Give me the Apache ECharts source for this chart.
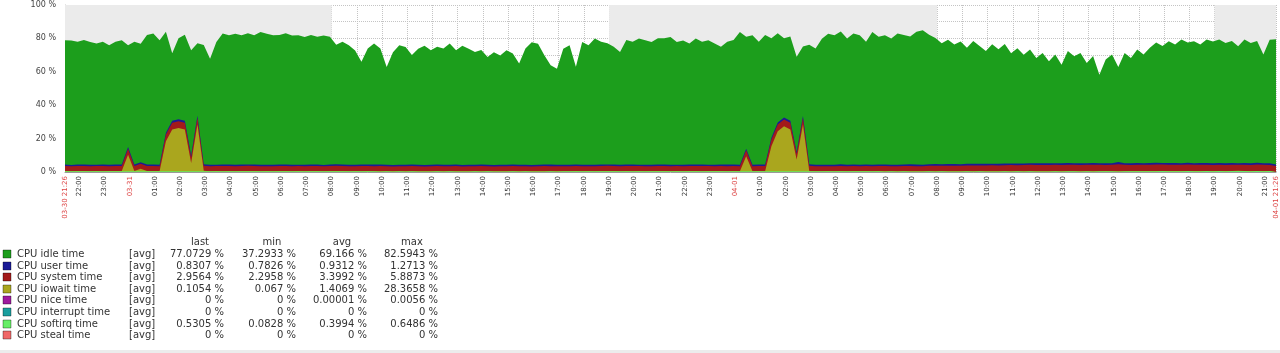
<!DOCTYPE html>
<html>
<head>
<meta charset="utf-8">
<script src="https://cdn.jsdelivr.net/npm/echarts@6/dist/echarts.min.js"></script>
<style>
html,body{margin:0;padding:0;background:#fff;}
#chart{width:1280px;height:353px;}
</style>
</head>
<body>
<div id="chart"></div>
<script>
// ---------- DATA ----------
// x values are minutes from the period start 03-30 21:26
const sampleStepMinutes = 15; // one sample every 15 min
const axisMaxMinutes = 2880;

const xTickMinutes = [0,34,94,154,214,274,334,394,454,514,574,634,694,754,814,874,934,994,1054,1114,1174,1234,1294,1354,1414,1474,1534,1594,1654,1714,1774,1834,1894,1954,2014,2074,2134,2194,2254,2314,2374,2434,2494,2554,2614,2674,2734,2794,2854,2880];
const xTickLabels = ['03-30 21:26','22:00','23:00','03-31','01:00','02:00','03:00','04:00','05:00','06:00','07:00','08:00','09:00','10:00','11:00','12:00','13:00','14:00','15:00','16:00','17:00','18:00','19:00','20:00','21:00','22:00','23:00','04-01','01:00','02:00','03:00','04:00','05:00','06:00','07:00','08:00','09:00','10:00','11:00','12:00','13:00','14:00','15:00','16:00','17:00','18:00','19:00','20:00','21:00','04-01 21:26'];
const nightRanges = [[0,634],[1294,2074],[2734,2880]];

const idleValues = [
74.5,74.5,73.5,74.5,73.5,72.5,73.5,71.5,73.5,74.5,
61,73.5,71,77.5,78.5,74.5,60.5,40.5,48.5,51.5,
63,43.5,71.5,63.5,73.5,78.5,77.5,78.5,77.5,78.5,
77.5,79.5,78.5,77.5,77.5,78.5,77.5,77.5,76.5,77.5,
76.5,77.5,76.5,71.5,73.5,71.5,68.5,61.5,69.5,72.5,
69.5,58.5,67.5,71.5,70.5,65.5,69.5,71.5,68.5,70.5,
69.5,72.5,68.5,71.5,69.5,67.5,68.5,64.5,67.5,65.5,
68.5,66.5,60.5,69.5,73.5,72.5,65.5,59.5,57.5,69.5,
71.5,58.5,73.5,71.5,75.5,73.5,72.5,70.5,67.5,74.5,
73.5,75.5,74.5,73.5,75.5,75.5,76.5,73.5,74.5,72.5,
75.5,73.5,74.5,72.5,70.5,73.5,74.5,79.5,67,77.5,
73.5,77.5,59.5,53.5,47.5,50.5,57,41.5,71.5,69.5,
75.5,78.5,77.5,79.5,75.5,78.5,77.5,73.5,79.5,76.5,
77.5,75.5,78.5,77.5,76.5,79.5,80.5,77.5,75.5,72.5,
74.5,71.5,73.5,69.5,73.5,70.5,67.5,71.5,68.5,71.5,
66,69,65,68,63,66,61,65,59,67,
64,66,60,64,53,62,65,57,66,63,
68,65,69,72,70,73,71,74,72,73,
71,74,73,74,72,73,70,74,72,73,
65,74,75
];
const userValues = [
0.9,0.85,0.9,0.95,0.9,0.85,0.9,0.9,0.95,0.9,
1.0,0.9,0.9,0.9,0.85,0.9,1.1,1.2,1.2,1.2,
1.0,1.2,0.9,0.9,0.85,0.9,0.9,0.95,0.9,0.85,
0.9,0.9,0.85,0.9,0.9,0.95,0.9,0.85,0.9,0.9,
0.9,0.85,0.9,0.95,0.9,0.9,0.85,0.9,0.9,0.95,
0.9,0.9,0.85,0.9,0.95,0.9,0.9,0.85,0.9,0.9,
0.95,0.9,0.9,0.85,0.9,0.9,0.95,0.9,0.85,0.9,
0.9,0.9,0.95,0.9,0.85,0.9,0.9,0.95,0.9,0.9,
0.85,0.9,0.9,0.95,0.9,0.9,0.85,0.9,0.9,0.95,
0.9,0.85,0.9,0.9,0.95,0.9,0.9,0.85,0.9,0.9,
0.95,0.9,0.85,0.9,0.9,0.95,0.9,0.9,1.0,0.9,
0.9,0.9,1.1,1.2,1.2,1.2,1.0,1.2,0.9,0.9,
0.85,0.9,0.9,0.95,0.9,0.9,0.85,0.9,0.9,0.95,
0.9,0.9,0.95,0.9,0.95,1.0,0.95,1.0,1.0,0.95,
1.0,1.0,0.95,1.0,1.0,1.05,1.0,1.0,1.05,1.0,
1.0,1.05,1.0,1.0,1.05,1.0,1.1,1.0,1.05,1.0,
1.0,1.05,1.0,1.1,1.0,1.05,1.0,1.27,1.0,1.05,
1.0,1.0,1.05,1.0,1.0,1.05,1.0,1.0,1.05,1.0,
1.0,1.05,1.0,1.0,1.0,1.05,1.0,1.0,1.0,1.05,
1.0,1.0,0.85
];
const systemValues = [
3.0,2.9,3.1,3.0,2.9,3.0,3.1,2.9,3.0,3.0,
3.5,3.0,3.0,3.1,3.0,2.9,4.0,4.0,4.0,4.0,
3.5,4.0,3.0,2.9,3.0,3.1,3.0,2.9,3.0,3.1,
3.0,3.0,2.9,3.0,3.1,3.0,2.9,3.0,3.0,3.1,
3.0,2.9,3.0,3.1,3.0,3.0,2.9,3.1,3.0,3.0,
3.1,3.0,2.9,3.0,3.0,3.1,3.0,2.9,3.0,3.1,
3.0,3.0,3.1,2.9,3.0,3.0,3.1,3.0,2.9,3.0,
3.0,3.1,3.0,3.0,2.9,3.0,3.1,3.0,3.0,2.9,
3.0,3.1,3.0,2.9,3.0,3.0,3.1,3.0,2.9,3.0,
3.1,3.0,3.0,2.9,3.0,3.1,3.0,3.0,2.9,3.0,
3.0,3.1,3.0,2.9,3.0,3.0,3.1,3.0,3.5,3.0,
3.0,3.1,4.0,4.0,4.0,4.0,3.5,4.0,3.1,3.0,
3.0,2.9,3.0,3.1,3.0,3.0,2.9,3.1,3.0,3.0,
3.1,3.0,3.0,3.1,3.2,3.1,3.0,3.2,3.3,3.2,
3.3,3.4,3.3,3.4,3.5,3.4,3.5,3.6,3.5,3.6,
3.7,3.6,3.7,3.8,3.7,3.8,3.7,3.8,3.7,3.9,
3.8,3.7,3.8,3.9,3.8,3.7,3.8,4.2,3.8,3.7,
3.8,3.7,3.8,3.9,3.8,3.7,3.8,3.7,3.8,3.7,
3.8,3.7,3.6,3.7,3.6,3.7,3.6,3.7,3.6,3.8,
3.7,3.6,3.0
];
const iowaitValues = [
0.1,0.1,0.1,0.1,0.1,0.1,0.1,0.1,0.1,0.1,
10,0.1,1.5,0.1,0.1,0.1,18,25,26,25,
5,28,0.2,0.1,0.1,0.1,0.1,0.1,0.1,0.1,
0.1,0.1,0.1,0.1,0.1,0.1,0.1,0.1,0.1,0.1,
0.1,0.1,0.1,0.1,0.1,0.1,0.1,0.1,0.1,0.1,
0.1,0.1,0.1,0.1,0.1,0.1,0.1,0.1,0.1,0.1,
0.1,0.1,0.1,0.1,0.1,0.1,0.1,0.1,0.1,0.1,
0.1,0.1,0.1,0.1,0.1,0.1,0.1,0.1,0.1,0.1,
0.1,0.1,0.1,0.1,0.1,0.1,0.1,0.1,0.1,0.1,
0.1,0.1,0.1,0.1,0.1,0.1,0.1,0.1,0.1,0.1,
0.1,0.1,0.1,0.1,0.1,0.1,0.1,0.1,9,0.1,
0.1,0.1,15,24,27,25,7,28,0.2,0.1,
0.1,0.1,0.1,0.1,0.1,0.1,0.1,0.1,0.1,0.1,
0.1,0.1,0.1,0.1,0.1,0.1,0.1,0.1,0.1,0.1,
0.1,0.1,0.1,0.1,0.1,0.1,0.1,0.1,0.1,0.1,
0.1,0.1,0.1,0.1,0.1,0.1,0.1,0.1,0.1,0.1,
0.1,0.1,0.1,0.1,0.1,0.1,0.1,0.1,0.1,0.1,
0.1,0.1,0.1,0.1,0.1,0.1,0.1,0.1,0.1,0.1,
0.1,0.1,0.1,0.1,0.1,0.1,0.1,0.1,0.1,0.1,
0.1,0.1,0.1
];
const softirqValues = [
0.45,0.4,0.45,0.5,0.4,0.45,0.4,0.45,0.5,0.45,
0.4,0.45,0.4,0.45,0.5,0.45,0.4,0.45,0.4,0.45,
0.4,0.45,0.5,0.4,0.45,0.4,0.45,0.4,0.45,0.5,
0.45,0.4,0.45,0.4,0.45,0.5,0.4,0.45,0.4,0.45,
0.45,0.4,0.45,0.5,0.45,0.4,0.45,0.4,0.45,0.4,
0.35,0.4,0.35,0.4,0.35,0.4,0.35,0.3,0.35,0.4,
0.35,0.4,0.35,0.3,0.35,0.4,0.35,0.4,0.35,0.3,
0.35,0.4,0.35,0.4,0.35,0.3,0.35,0.4,0.35,0.4,
0.4,0.45,0.4,0.45,0.4,0.45,0.5,0.45,0.4,0.45,
0.4,0.45,0.4,0.45,0.5,0.45,0.4,0.45,0.4,0.45,
0.45,0.4,0.45,0.5,0.45,0.4,0.45,0.4,0.45,0.4,
0.45,0.4,0.45,0.4,0.45,0.5,0.45,0.4,0.45,0.4,
0.4,0.45,0.4,0.45,0.4,0.45,0.5,0.45,0.4,0.45,
0.35,0.4,0.35,0.4,0.35,0.3,0.35,0.4,0.35,0.4,
0.35,0.3,0.35,0.4,0.35,0.4,0.35,0.3,0.35,0.4,
0.35,0.4,0.35,0.4,0.35,0.3,0.35,0.4,0.35,0.4,
0.4,0.35,0.4,0.35,0.4,0.45,0.4,0.35,0.4,0.45,
0.45,0.5,0.45,0.5,0.55,0.5,0.45,0.5,0.55,0.5,
0.5,0.55,0.5,0.55,0.5,0.55,0.6,0.55,0.5,0.55,
0.5,0.55,0.53
];
// always-zero items (nice / interrupt / steal): values at start and end of the period
const zeroItemMinutes = [0, 2880];
const niceValues = [0, 0];
const interruptValues = [0, 0];
const stealValues = [0, 0];

const legendNames = ['CPU idle time','CPU user time','CPU system time','CPU iowait time','CPU nice time','CPU interrupt time','CPU softirq time','CPU steal time'];
const legendLast = ['77.0729 %','0.8307 %','2.9564 %','0.1054 %','0 %','0 %','0.5305 %','0 %'];
const legendMin  = ['37.2933 %','0.7826 %','2.2958 %','0.067 %','0 %','0 %','0.0828 %','0 %'];
const legendAvg  = ['69.166 %','0.9312 %','3.3992 %','1.4069 %','0.00001 %','0 %','0.3994 %','0 %'];
const legendMax  = ['82.5943 %','1.2713 %','5.8873 %','28.3658 %','0.0056 %','0 %','0.6486 %','0 %'];
const yTickLabels = ['0 %','20 %','40 %','60 %','80 %','100 %'];

// ---------- STYLE ----------
const COLORS = {
  idle:'#1c9e1c', user:'#1a1a96', system:'#a31a1a', iowait:'#aaa61e',
  nice:'#9e1a9e', interrupt:'#1a9e9e', softirq:'#66ee66', steal:'#f06868'
};
const legendColors = [COLORS.idle,COLORS.user,COLORS.system,COLORS.iowait,COLORS.nice,COLORS.interrupt,COLORS.softirq,COLORS.steal];
const FONT = 'DejaVu Sans';

// stacking (bottom -> top): softirq, iowait, system, user, idle
const layers = [
  {name:'CPU softirq time', values:softirqValues, color:COLORS.softirq},
  {name:'CPU iowait time',  values:iowaitValues,  color:COLORS.iowait},
  {name:'CPU system time',  values:systemValues,  color:COLORS.system},
  {name:'CPU user time',    values:userValues,    color:COLORS.user},
  {name:'CPU idle time',    values:idleValues,    color:COLORS.idle}
];
const running = idleValues.map(()=>0);
const stackedSeries = layers.map(l => {
  const data = l.values.map((v,i) => { running[i] += v; return [i*sampleStepMinutes, +running[i].toFixed(3)]; });
  return {
    name:l.name, type:'line', data, showSymbol:false, symbol:'none',
    lineStyle:{width:0}, areaStyle:{color:l.color, opacity:1, origin:'start'}, itemStyle:{color:l.color},
    z:2, silent:true
  };
}).reverse(); // draw top-most cumulative first, lower layers over it

function zeroSeries(name, values, color){
  return {
    name, type:'line', data:values.map((v,i)=>[zeroItemMinutes[i], v]), showSymbol:false, symbol:'none',
    lineStyle:{width:0}, areaStyle:{color, opacity:1}, itemStyle:{color}, z:2, silent:true
  };
}

// legend as graphic texts
const graphics = [];
const rowY0 = 254, rowStep = 11.6;
const colRight = {last:224, min:296, avg:367, max:438};
const headCenter = {last:200, min:272, avg:342, max:412};
const textStyle = {fontFamily:FONT, fontSize:10, fill:'#333'};
[['last','last'],['min','min'],['avg','avg'],['max','max']].forEach(([k,t])=>{
  graphics.push({type:'text', x:headCenter[k], y:rowY0-rowStep, silent:true,
    style:Object.assign({text:t, align:'center', verticalAlign:'middle'}, textStyle)});
});
legendNames.forEach((nm,i)=>{
  const y = Math.round(rowY0 + i*rowStep);
  graphics.push({type:'rect', shape:{x:3, y:y-4, width:8, height:8}, silent:true,
    style:{fill:legendColors[i], stroke:'rgba(0,0,0,0.35)', lineWidth:1}});
  graphics.push({type:'text', x:17, y:y, silent:true, style:Object.assign({text:nm, align:'left', verticalAlign:'middle'}, textStyle)});
  graphics.push({type:'text', x:129, y:y, silent:true, style:Object.assign({text:'[avg]', align:'left', verticalAlign:'middle'}, textStyle)});
  [['last',legendLast],['min',legendMin],['avg',legendAvg],['max',legendMax]].forEach(([k,arr])=>{
    graphics.push({type:'text', x:colRight[k], y:y, silent:true, style:Object.assign({text:arr[i], align:'right', verticalAlign:'middle'}, textStyle)});
  });
});
graphics.push({type:'rect', shape:{x:0, y:350, width:1280, height:3}, silent:true, style:{fill:'#ececec'}});

const chart = echarts.init(document.getElementById('chart'), null, {renderer:'canvas'});
chart.setOption({
  animation:false,
  backgroundColor:'#ffffff',
  textStyle:{fontFamily:FONT},
  grid:{left:65, right:4, top:5, bottom:181, containLabel:false, outerBoundsMode:'none'},
  xAxis:{
    type:'value', min:0, max:axisMaxMinutes,
    axisLine:{show:true, lineStyle:{color:'#9a9a9a', width:1}},
    axisTick:{show:false, customValues:xTickMinutes},
    splitLine:{show:true, lineStyle:{color:'#c4c4c4', type:'dotted', width:1}},
    axisLabel:{
      customValues:xTickMinutes, rotate:90, fontSize:7, color:'#333', margin:4,
      fontFamily:FONT, showMinLabel:true, showMaxLabel:true, hideOverlap:false,
      formatter:function(v){
        const i = xTickMinutes.indexOf(v);
        const t = i >= 0 ? xTickLabels[i] : '';
        return t.indexOf('-') >= 0 ? '{r|' + t + '}' : t;
      },
      rich:{r:{color:'#dd4444', fontSize:7, fontFamily:FONT}}
    }
  },
  yAxis:{
    type:'value', min:0, max:100, interval:10,
    axisLine:{show:true, lineStyle:{color:'#bdbdbd', width:1}},
    axisTick:{show:false},
    splitLine:{show:true, lineStyle:{color:'#c4c4c4', type:'dotted', width:1}},
    axisLabel:{
      fontSize:8, color:'#444', margin:9, fontFamily:FONT,
      formatter:function(v){ return v % 20 === 0 ? yTickLabels[v/20] : ''; }
    }
  },
  series:[
    {name:'night', type:'line', data:[], z:-1, silent:true,
      markArea:{silent:true, itemStyle:{color:'#ebebeb'}, label:{show:false},
        data:nightRanges.map(r=>[{xAxis:r[0]},{xAxis:r[1]}])}},
    zeroSeries('CPU steal time', stealValues, COLORS.steal),
    zeroSeries('CPU interrupt time', interruptValues, COLORS.interrupt),
    zeroSeries('CPU nice time', niceValues, COLORS.nice)
  ].concat(stackedSeries),
  graphic:graphics
});
</script>
</body>
</html>
